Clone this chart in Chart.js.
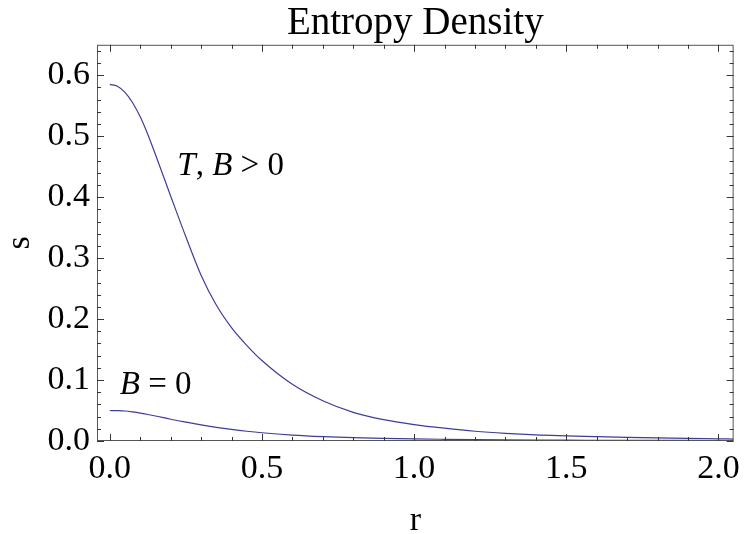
<!DOCTYPE html>
<html>
<head>
<meta charset="utf-8">
<script src="https://cdn.jsdelivr.net/npm/chart.js@4.4.0/dist/chart.umd.min.js"></script>
<style>
  body { margin: 0; background: #fff; }
  #wrap { width: 748px; height: 534px; }
</style>
</head>
<body>
<div id="wrap"><canvas id="chart" width="748" height="534"></canvas></div>
<script>
// valeurs
var rVals = [0, 0.025, 0.05, 0.075, 0.1, 0.125, 0.15, 0.2, 0.25, 0.3, 0.35, 0.4, 0.45, 0.5, 0.6, 0.7, 0.8, 0.9, 1.0,
             1.1, 1.2, 1.3, 1.4, 1.5, 1.6, 1.7, 1.8, 1.9, 2.0, 2.05];
var sHot  = [0.585, 0.582, 0.572, 0.555, 0.532, 0.503, 0.470, 0.402, 0.335, 0.272, 0.223, 0.186, 0.157, 0.132, 0.093, 0.066, 0.047, 0.035, 0.027,
             0.021, 0.016, 0.0125, 0.010, 0.0085, 0.0072, 0.006, 0.005, 0.0042, 0.0035, 0.0032];
var sCold = [0.050, 0.0498, 0.0492, 0.0477, 0.0458, 0.0435, 0.041, 0.0357, 0.031, 0.0265, 0.0225, 0.019, 0.016, 0.0135, 0.0097, 0.0072, 0.0055, 0.0043, 0.0034,
             0.0028, 0.0023, 0.0019, 0.0016, 0.0014, 0.0012, 0.0011, 0.001, 0.0009, 0.0008, 0.0008];

var xMajor = [0, 0.5, 1.0, 1.5, 2.0];
var xMinor = [0.1, 0.2, 0.3, 0.4, 0.6, 0.7, 0.8, 0.9, 1.1, 1.2, 1.3, 1.4, 1.6, 1.7, 1.8, 1.9];
var yMajor = [0, 0.1, 0.2, 0.3, 0.4, 0.5, 0.6];
var yMinor = [0.02, 0.04, 0.06, 0.08, 0.12, 0.14, 0.16, 0.18, 0.22, 0.24, 0.26, 0.28, 0.32, 0.34, 0.36, 0.38,
              0.42, 0.44, 0.46, 0.48, 0.52, 0.54, 0.56, 0.58, 0.62, 0.64];

// étiquettes dans le graphe : [r, s, morceaux (texte, italique)]
var notes = [
    [0.222, 0.451, [['T', true], [', ', false], ['B', true], [' > 0', false]]],
    [0.033, 0.092, [['B', true], [' = 0', false]]]
];

var serif = "'Liberation Serif', 'DejaVu Serif', serif";
var lineColor = '#3e3d99';

function toPoints(ys) {
    return rVals.map(function(r, i) { return { x: r, y: ys[i] }; });
}

// cadre, graduations vers l'intérieur et annotations
var framePlugin = {
    id: 'frame',
    afterDraw: function(chart) {
        var ctx = chart.ctx;
        var a = chart.chartArea;
        var xs = chart.scales.x, ys = chart.scales.y;
        ctx.save();
        ctx.strokeStyle = '#555';
        ctx.lineWidth = 1;
        ctx.strokeRect(a.left + 0.5, a.top + 0.5, a.right - a.left - 1, a.bottom - a.top - 1);

        ctx.strokeStyle = '#333';
        ctx.beginPath();
        function xTick(v, len) {
            var px = Math.round(xs.getPixelForValue(v)) + 0.5;
            ctx.moveTo(px, a.bottom); ctx.lineTo(px, a.bottom - len);
            ctx.moveTo(px, a.top); ctx.lineTo(px, a.top + len);
        }
        function yTick(v, len) {
            var py = Math.round(ys.getPixelForValue(v)) + 0.5;
            ctx.moveTo(a.left, py); ctx.lineTo(a.left + len, py);
            ctx.moveTo(a.right, py); ctx.lineTo(a.right - len, py);
        }
        xMajor.forEach(function(v) { xTick(v, 7); });
        xMinor.forEach(function(v) { xTick(v, 4); });
        yMajor.forEach(function(v) { yTick(v, 7); });
        yMinor.forEach(function(v) { yTick(v, 4); });
        ctx.stroke();

        ctx.fillStyle = '#000';
        ctx.textBaseline = 'middle';
        ctx.textAlign = 'left';
        notes.forEach(function(n) {
            var x = xs.getPixelForValue(n[0]);
            var y = ys.getPixelForValue(n[1]);
            n[2].forEach(function(p) {
                ctx.font = (p[1] ? 'italic ' : '') + '33px ' + serif;
                ctx.fillText(p[0], x, y);
                x += ctx.measureText(p[0]).width;
            });
        });
        ctx.restore();
    }
};

var config = {
    type: 'line',
    data: {
        datasets: [
            {
                label: 'T, B > 0',
                data: toPoints(sHot),
                borderColor: lineColor,
                borderWidth: 1.2,
                pointRadius: 0,
                cubicInterpolationMode: 'monotone',
                fill: false
            },
            {
                label: 'B = 0',
                data: toPoints(sCold),
                borderColor: lineColor,
                borderWidth: 1.2,
                pointRadius: 0,
                cubicInterpolationMode: 'monotone',
                fill: false
            }
        ]
    },
    options: {
        responsive: false,
        animation: false,
        layout: { padding: { left: 0, right: 9, top: 0, bottom: 0 } },
        plugins: {
            legend: { display: false },
            tooltip: { enabled: false },
            title: {
                display: true,
                text: 'Entropy Density',
                fullSize: false,
                color: '#000',
                font: { family: serif, size: 39, weight: 'normal' },
                padding: { top: 0, bottom: -2 }
            }
        },
        scales: {
            x: {
                type: 'linear',
                min: -0.042,
                max: 2.05,
                grid: { display: false, drawTicks: false },
                border: { display: false },
                afterBuildTicks: function(s) { s.ticks = xMajor.map(function(v) { return { value: v }; }); },
                afterFit: function(s) { s.height = 93; },
                ticks: {
                    color: '#000',
                    font: { family: serif, size: 34 },
                    padding: 8,
                    maxRotation: 0,
                    autoSkip: false,
                    callback: function(v) { return v.toFixed(1); }
                },
                title: {
                    display: true,
                    text: 'r',
                    color: '#000',
                    font: { family: serif, size: 34 },
                    padding: { top: 0, bottom: -7 }
                }
            },
            y: {
                min: 0,
                max: 0.65,
                grid: { display: false, drawTicks: false },
                border: { display: false },
                afterBuildTicks: function(s) { s.ticks = yMajor.map(function(v) { return { value: v }; }); },
                afterFit: function(s) { s.width = 97; },
                ticks: {
                    color: '#000',
                    font: { family: serif, size: 34 },
                    padding: 7,
                    autoSkip: false,
                    callback: function(v) { return v.toFixed(1); }
                },
                title: {
                    display: true,
                    text: 's',
                    color: '#000',
                    font: { family: serif, size: 34 },
                    padding: { top: 0, bottom: 0 }
                }
            }
        }
    },
    plugins: [framePlugin]
};

var myChart = new Chart(document.getElementById('chart'), config);
</script>
</body>
</html>
